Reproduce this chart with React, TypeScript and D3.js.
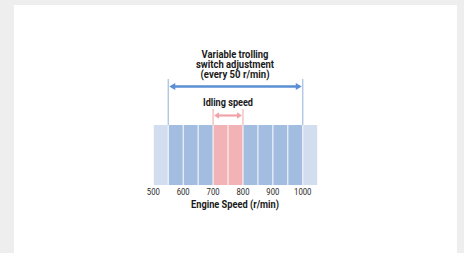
import React from "react";
import * as d3 from "d3";

const segStarts = [500, 550, 600, 650, 700, 750, 800, 850, 900, 950, 1000];
const segKinds = ["out", "adj", "adj", "adj", "idle", "idle", "adj", "adj", "adj", "adj", "out"];
const tickValues = [500, 600, 700, 800, 900, 1000];
const adjRange = [550, 1000];
const idleRange = [700, 800];
const titleLines = ["Variable trolling", "switch adjustment", "(every 50 r/min)"];
const titleWidths = [67, 78, 69];
const idleLabel = "Idling speed";
const axisLabel = "Engine Speed (r/min)";

const colors: Record<string, string> = { out: "#d2ddef", adj: "#a3bde1", idle: "#f2b3b6" };

export default function App() {
  const x = d3.scaleLinear().domain([500, 1050]).range([153.3, 317.7]);
  const barTop = 125;
  const barBot = 185;
  const font = "Roboto, 'Liberation Sans', sans-serif";
  const blueArrowY = 86.5;
  const pinkArrowY = 115.5;
  const arrowHead = (xTip: number, y: number, dir: number, color: string, len: number, half: number) => (
    <path d={`M${xTip},${y} L${xTip - dir * len},${y - half} L${xTip - dir * len},${y + half} Z`} fill={color} />
  );
  const bx0 = x(adjRange[0]);
  const bx1 = x(adjRange[1]);
  const px0 = x(idleRange[0]);
  const px1 = x(idleRange[1]);
  return (
    <svg width={464} height={253} style={{ position: "absolute", left: 0, top: 0 }}>
      <rect x={0} y={0} width={464} height={253} fill="#eeeeee" />
      <rect x={14} y={5} width={443} height={260} fill="#ffffff" />
      {segStarts.map((s, i) => (
        <rect key={i} x={x(s) + 0.5} y={barTop} width={x(s + 50) - x(s) - 1} height={barBot - barTop} fill={colors[segKinds[i]]} />
      ))}
      {/* blue bracket */}
      <line x1={bx0} x2={bx0} y1={79} y2={barTop} stroke="#a3bde1" strokeWidth={1.2} />
      <line x1={bx1} x2={bx1} y1={79} y2={barTop} stroke="#a3bde1" strokeWidth={1.2} />
      <line x1={bx0 + 5} x2={bx1 - 5} y1={blueArrowY} y2={blueArrowY} stroke="#5b8fd4" strokeWidth={2.4} />
      {arrowHead(bx0 + 1, blueArrowY, -1, "#5b8fd4", 6, 3.4)}
      {arrowHead(bx1 - 1, blueArrowY, 1, "#5b8fd4", 6, 3.4)}
      {/* pink bracket */}
      <line x1={px0} x2={px0} y1={109} y2={barTop} stroke="#f2b3b6" strokeWidth={1.2} />
      <line x1={px1} x2={px1} y1={109} y2={barTop} stroke="#f2b3b6" strokeWidth={1.2} />
      <line x1={px0 + 4} x2={px1 - 4} y1={pinkArrowY} y2={pinkArrowY} stroke="#f0a3a8" strokeWidth={2.2} />
      {arrowHead(px0 + 1, pinkArrowY, -1, "#f0a3a8", 5, 3.2)}
      {arrowHead(px1 - 1, pinkArrowY, 1, "#f0a3a8", 5, 3.2)}
      {titleLines.map((t, i) => (
        <text key={t} x={235} y={58 + i * 10} textAnchor="middle" fontFamily={font} fontWeight="bold" fontSize={10}
          fill="#1a1a1a" textLength={titleWidths[i]} lengthAdjust="spacingAndGlyphs">{t}</text>
      ))}
      <text x={228} y={105.5} textAnchor="middle" fontFamily={font} fontWeight="bold" fontSize={10.5} fill="#1a1a1a"
        textLength={50} lengthAdjust="spacingAndGlyphs">{idleLabel}</text>
      {tickValues.map((v) => (
        <text key={v} x={x(v)} y={195} textAnchor="middle" fontFamily={font} fontSize={9} fill="#2a2a2a"
          textLength={v >= 1000 ? 17.5 : 13} lengthAdjust="spacingAndGlyphs">{v}</text>
      ))}
      <text x={235} y={207.5} textAnchor="middle" fontFamily={font} fontWeight="bold" fontSize={10.5} fill="#1a1a1a"
        textLength={88} lengthAdjust="spacingAndGlyphs">{axisLabel}</text>
    </svg>
  );
}
